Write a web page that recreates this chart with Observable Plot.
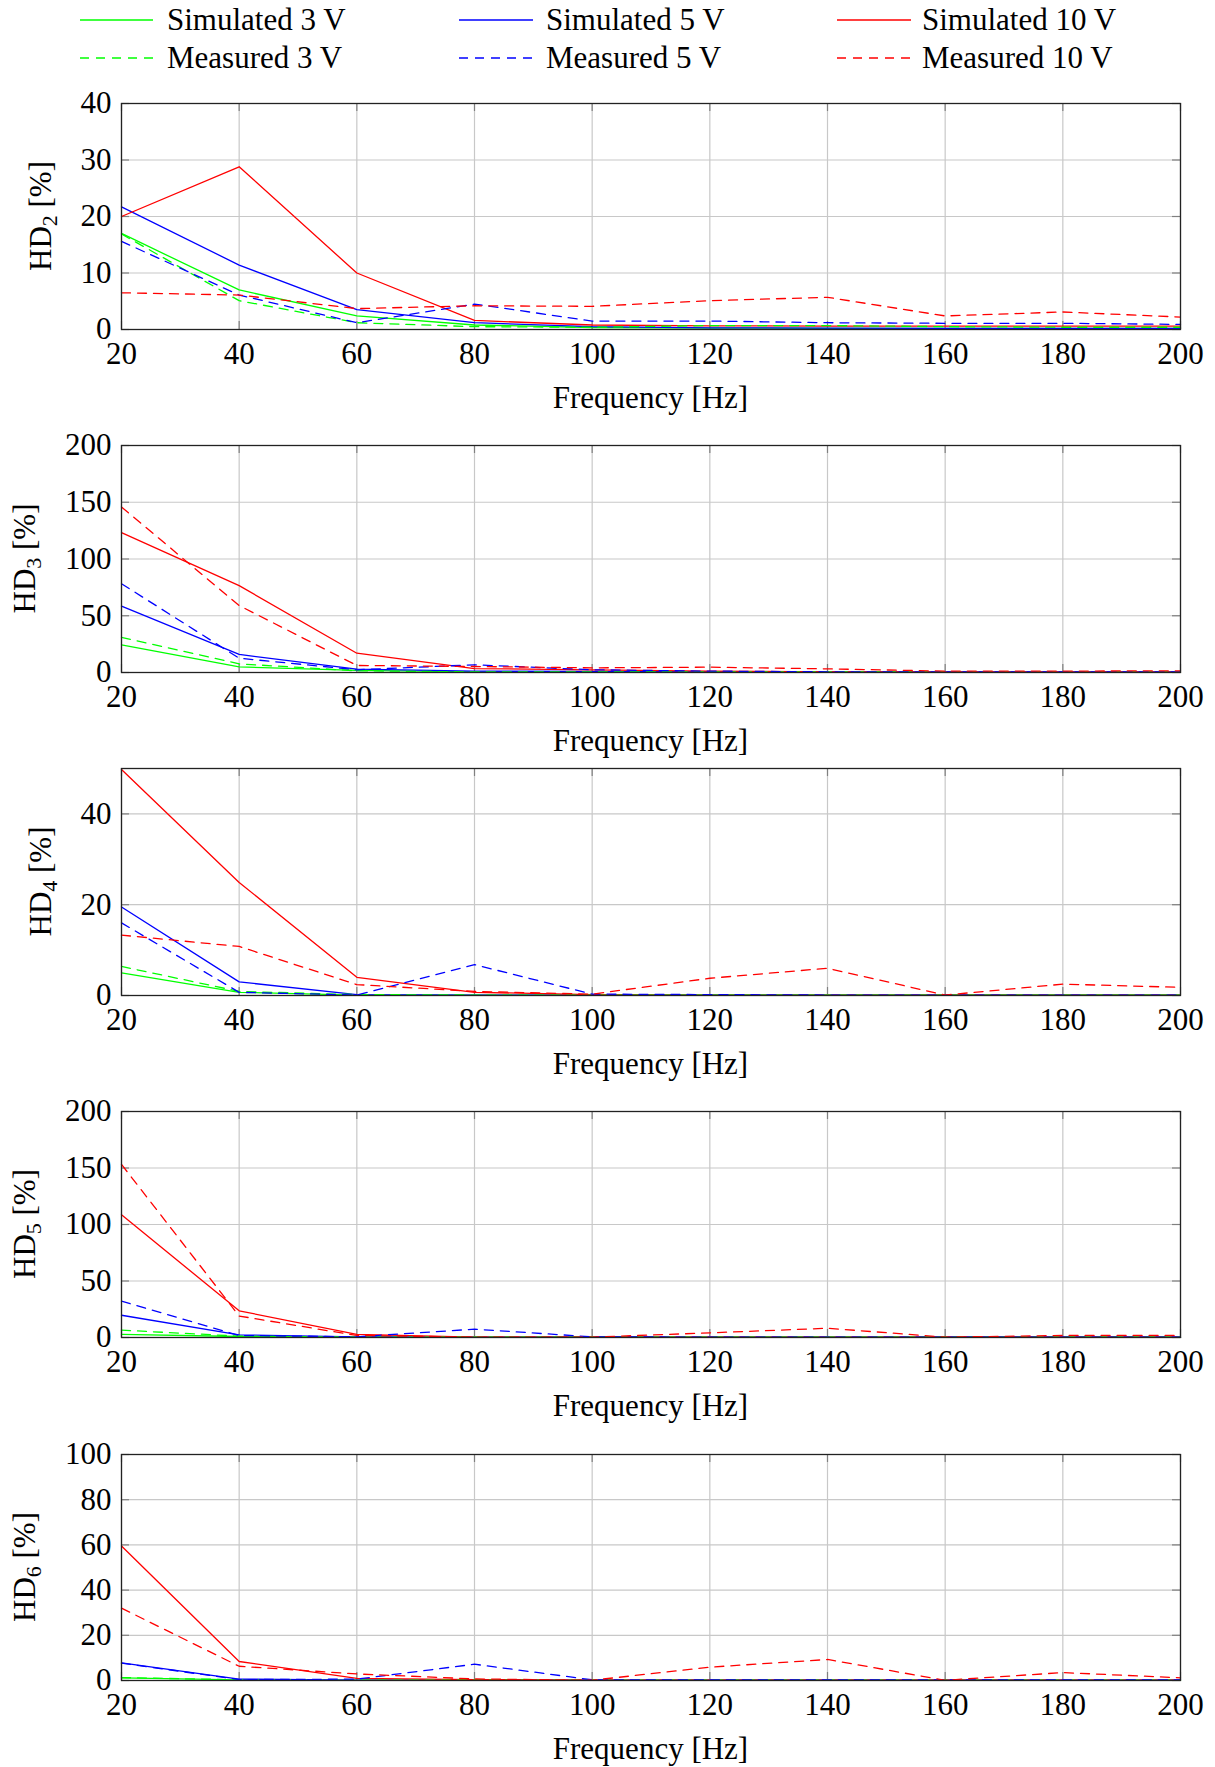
<!DOCTYPE html>
<html><head><meta charset="utf-8">
<script src="https://cdn.jsdelivr.net/npm/d3@7"></script>
<script src="https://cdn.jsdelivr.net/npm/@observablehq/plot@0.6"></script>
<style>
body{margin:0;background:#fff;}
#root{position:relative;width:1215px;height:1767px;font-family:"Liberation Serif",serif;color:#000;}
#root svg{position:absolute;left:0;overflow:visible;}
</style></head><body><div id="root"></div>
<script>
// ---------- data ----------
const freq = [20, 40, 60, 80, 100, 120, 140, 160, 180, 200];
const xTicks = [20, 40, 60, 80, 100, 120, 140, 160, 180, 200];
const seriesNames = ["Simulated 3 V", "Simulated 5 V", "Simulated 10 V", "Measured 3 V", "Measured 5 V", "Measured 10 V"];
const seriesColors = ["#00ff00", "#0000ff", "#ff0000", "#00ff00", "#0000ff", "#ff0000"];
const seriesDashed = [false, false, false, true, true, true];

// HD2 [%]
const hd2Sim3  = [17.0, 7.0, 2.4, 0.8, 0.35, 0.25, 0.2, 0.2, 0.2, 0.2];
const hd2Sim5  = [21.7, 11.4, 3.5, 1.2, 0.5, 0.3, 0.25, 0.2, 0.2, 0.2];
const hd2Sim10 = [20.0, 28.8, 10.0, 1.6, 0.8, 0.65, 0.6, 0.6, 0.6, 0.6];
const hd2Meas3  = [16.9, 5.1, 1.2, 0.5, 0.4, 0.7, 0.7, 0.5, 0.4, 0.4];
const hd2Meas5  = [15.6, 6.1, 1.2, 4.5, 1.5, 1.5, 1.2, 1.1, 1.1, 0.9];
const hd2Meas10 = [6.5, 6.1, 3.7, 4.2, 4.1, 5.1, 5.7, 2.4, 3.1, 2.2];
const hd2Ticks = [0, 10, 20, 30, 40];

// HD3 [%]
const hd3Sim3  = [24.4, 5.0, 1.8, 0.6, 0.3, 0.3, 0.3, 0.3, 0.3, 0.3];
const hd3Sim5  = [58.5, 15.9, 2.9, 1.2, 0.9, 0.6, 0.5, 0.5, 0.5, 0.5];
const hd3Sim10 = [123.2, 76.5, 17.0, 3.5, 2.4, 1.2, 0.6, 0.4, 0.3, 0.3];
const hd3Meas3  = [30.9, 7.6, 1.5, 0.5, 0.5, 0.5, 0.5, 0.5, 0.5, 0.5];
const hd3Meas5  = [78.2, 12.6, 2.4, 6.8, 2.4, 1.2, 0.6, 0.5, 0.5, 0.5];
const hd3Meas10 = [145.8, 59.0, 6.2, 5.3, 4.1, 4.7, 3.2, 1.2, 1.2, 1.5];
const hd3Ticks = [0, 50, 100, 150, 200];

// HD4 [%]
const hd4Sim3  = [5.0, 0.7, 0.1, 0.1, 0.1, 0.1, 0.1, 0.1, 0.1, 0.1];
const hd4Sim5  = [19.5, 3.0, 0.2, 0.1, 0.1, 0.1, 0.1, 0.1, 0.1, 0.1];
const hd4Sim10 = [49.8, 24.9, 4.0, 0.7, 0.2, 0.1, 0.1, 0.1, 0.1, 0.1];
const hd4Meas3  = [6.4, 0.9, 0.2, 0.1, 0.1, 0.1, 0.1, 0.1, 0.1, 0.1];
const hd4Meas5  = [16.0, 0.7, 0.1, 6.8, 0.3, 0.2, 0.1, 0.1, 0.1, 0.1];
const hd4Meas10 = [13.3, 10.8, 2.4, 0.9, 0.3, 3.8, 6.0, 0.1, 2.5, 1.8];
const hd4Ticks = [0, 20, 40];

// HD5 [%]
const hd5Sim3  = [2.7, 0.9, 0.2, 0.2, 0.2, 0.2, 0.2, 0.2, 0.2, 0.2];
const hd5Sim5  = [19.7, 2.4, 0.6, 0.3, 0.3, 0.3, 0.3, 0.3, 0.3, 0.3];
const hd5Sim10 = [108.7, 23.6, 2.7, 0.3, 0.3, 0.3, 0.3, 0.3, 0.3, 0.3];
const hd5Meas3  = [6.5, 1.2, 0.3, 0.3, 0.3, 0.3, 0.3, 0.3, 0.3, 0.3];
const hd5Meas5  = [32.1, 1.8, 0.6, 7.4, 0.6, 0.3, 0.3, 0.3, 0.3, 0.3];
const hd5Meas10 = [153.2, 19.0, 1.8, 0.3, 0.3, 4.1, 8.2, 0.3, 1.8, 1.8];
const hd5Ticks = [0, 50, 100, 150, 200];

// HD6 [%]
const hd6Sim3  = [1.2, 0.3, 0.1, 0.1, 0.1, 0.1, 0.1, 0.1, 0.1, 0.1];
const hd6Sim5  = [7.8, 0.6, 0.2, 0.2, 0.2, 0.2, 0.2, 0.2, 0.2, 0.2];
const hd6Sim10 = [59.5, 8.4, 0.9, 0.4, 0.2, 0.2, 0.2, 0.2, 0.2, 0.2];
const hd6Meas3  = [1.3, 0.3, 0.1, 0.1, 0.1, 0.1, 0.1, 0.1, 0.1, 0.1];
const hd6Meas5  = [7.7, 0.4, 0.6, 7.2, 0.3, 0.3, 0.3, 0.3, 0.3, 0.3];
const hd6Meas10 = [32.0, 6.3, 2.9, 0.7, 0.1, 5.9, 9.3, 0.1, 3.5, 1.2];
const hd6Ticks = [0, 20, 40, 60, 80, 100];

// ---------- layout ----------
const FONT = "Liberation Serif";
const FS = 31;
const W = 1215, ML = 121, MR = 35, MT = 20, MB = 95;
const PW = W - ML - MR;
const panels = [
  {sub: "2", domain: [0, 40],  ticks: hd2Ticks, values: [hd2Sim3, hd2Sim5, hd2Sim10, hd2Meas3, hd2Meas5, hd2Meas10], top: 103, h: 226, labelX: 51},
  {sub: "3", domain: [0, 200], ticks: hd3Ticks, values: [hd3Sim3, hd3Sim5, hd3Sim10, hd3Meas3, hd3Meas5, hd3Meas10], top: 445, h: 227, labelX: 35},
  {sub: "4", domain: [0, 50],  ticks: hd4Ticks, values: [hd4Sim3, hd4Sim5, hd4Sim10, hd4Meas3, hd4Meas5, hd4Meas10], top: 768, h: 227, labelX: 51},
  {sub: "5", domain: [0, 200], ticks: hd5Ticks, values: [hd5Sim3, hd5Sim5, hd5Sim10, hd5Meas3, hd5Meas5, hd5Meas10], top: 1111, h: 226, labelX: 35},
  {sub: "6", domain: [0, 100], ticks: hd6Ticks, values: [hd6Sim3, hd6Sim5, hd6Sim10, hd6Meas3, hd6Meas5, hd6Meas10], top: 1454, h: 226, labelX: 35}
];

const root = document.getElementById("root");

// ---------- legend ----------
const legendCols = [{lx1: 80, lx2: 153, tx: 167}, {lx1: 459, lx2: 533, tx: 546}, {lx1: 837, lx2: 911, tx: 922}];
const legendRows = [20, 58];
const leg = d3.create("svg").attr("width", W).attr("height", 85).style("top", "0px");
seriesNames.forEach((name, i) => {
  const c = legendCols[i % 3], y = legendRows[Math.floor(i / 3)];
  leg.append("line").attr("x1", c.lx1).attr("x2", c.lx2).attr("y1", y).attr("y2", y)
    .attr("stroke", seriesColors[i]).attr("stroke-width", 1.3)
    .attr("stroke-dasharray", seriesDashed[i] ? "9,7" : null);
  leg.append("text").attr("x", c.tx).attr("y", y + 10).attr("font-family", FONT).attr("font-size", FS)
    .attr("fill", "#000").text(name);
});
root.appendChild(leg.node());

// ---------- panels ----------
panels.forEach(p => {
  const H = MT + p.h + MB;
  const lineMarks = seriesNames.map((name, i) => {
    const rows = freq.map((f, j) => ({freq: f, value: p.values[i][j], series: name}));
    return Plot.line(rows, {x: "freq", y: "value", stroke: seriesColors[i], strokeWidth: 1.3,
      strokeDasharray: seriesDashed[i] ? "9,7" : null, strokeLinejoin: "round"});
  });
  const svg = Plot.plot({
    width: W, height: H, marginLeft: ML, marginRight: MR, marginTop: MT, marginBottom: MB,
    style: {fontFamily: FONT, fontSize: FS + "px", background: "transparent", overflow: "visible", color: "#000"},
    x: {domain: [20, 200], label: null},
    y: {domain: p.domain, label: null},
    marks: [
      Plot.gridX(xTicks, {stroke: "#c8c8c8", strokeOpacity: 1, strokeWidth: 1.2}),
      Plot.gridY(p.ticks, {stroke: "#c8c8c8", strokeOpacity: 1, strokeWidth: 1.2}),
      Plot.tickX(xTicks, {x: d => d, insetTop: p.h - 8, stroke: "#808080", strokeWidth: 1.2}),
      Plot.tickX(xTicks, {x: d => d, insetBottom: p.h - 8, stroke: "#808080", strokeWidth: 1.2}),
      Plot.tickY(p.ticks, {y: d => d, insetRight: PW - 8, stroke: "#808080", strokeWidth: 1.2}),
      Plot.tickY(p.ticks, {y: d => d, insetLeft: PW - 8, stroke: "#808080", strokeWidth: 1.2}),
      Plot.axisX(xTicks, {tickSize: 0, tickPadding: 12, label: null, fontSize: FS, tickFormat: d => String(d)}),
      Plot.axisY(p.ticks, {tickSize: 0, tickPadding: 10, label: null, fontSize: FS, tickFormat: d => String(d)}),
      ...lineMarks,
      Plot.frame({stroke: "#222", strokeWidth: 1.3})
    ]
  });
  const s = d3.select(svg);
  s.style("top", (p.top - MT) + "px");
  s.append("text").attr("x", ML + PW / 2).attr("y", MT + p.h + 79)
    .attr("text-anchor", "middle").attr("font-family", FONT).attr("font-size", FS).attr("fill", "#000")
    .text("Frequency [Hz]");
  const yl = s.append("text")
    .attr("transform", `translate(${p.labelX},${MT + p.h / 2}) rotate(-90)`)
    .attr("text-anchor", "middle").attr("font-family", FONT).attr("font-size", FS).attr("fill", "#000");
  yl.append("tspan").text("HD");
  yl.append("tspan").attr("font-size", 22).attr("dy", 6).text(p.sub);
  yl.append("tspan").attr("dy", -6).text(" [%]");
  root.appendChild(svg);
});
</script>
</body></html>
